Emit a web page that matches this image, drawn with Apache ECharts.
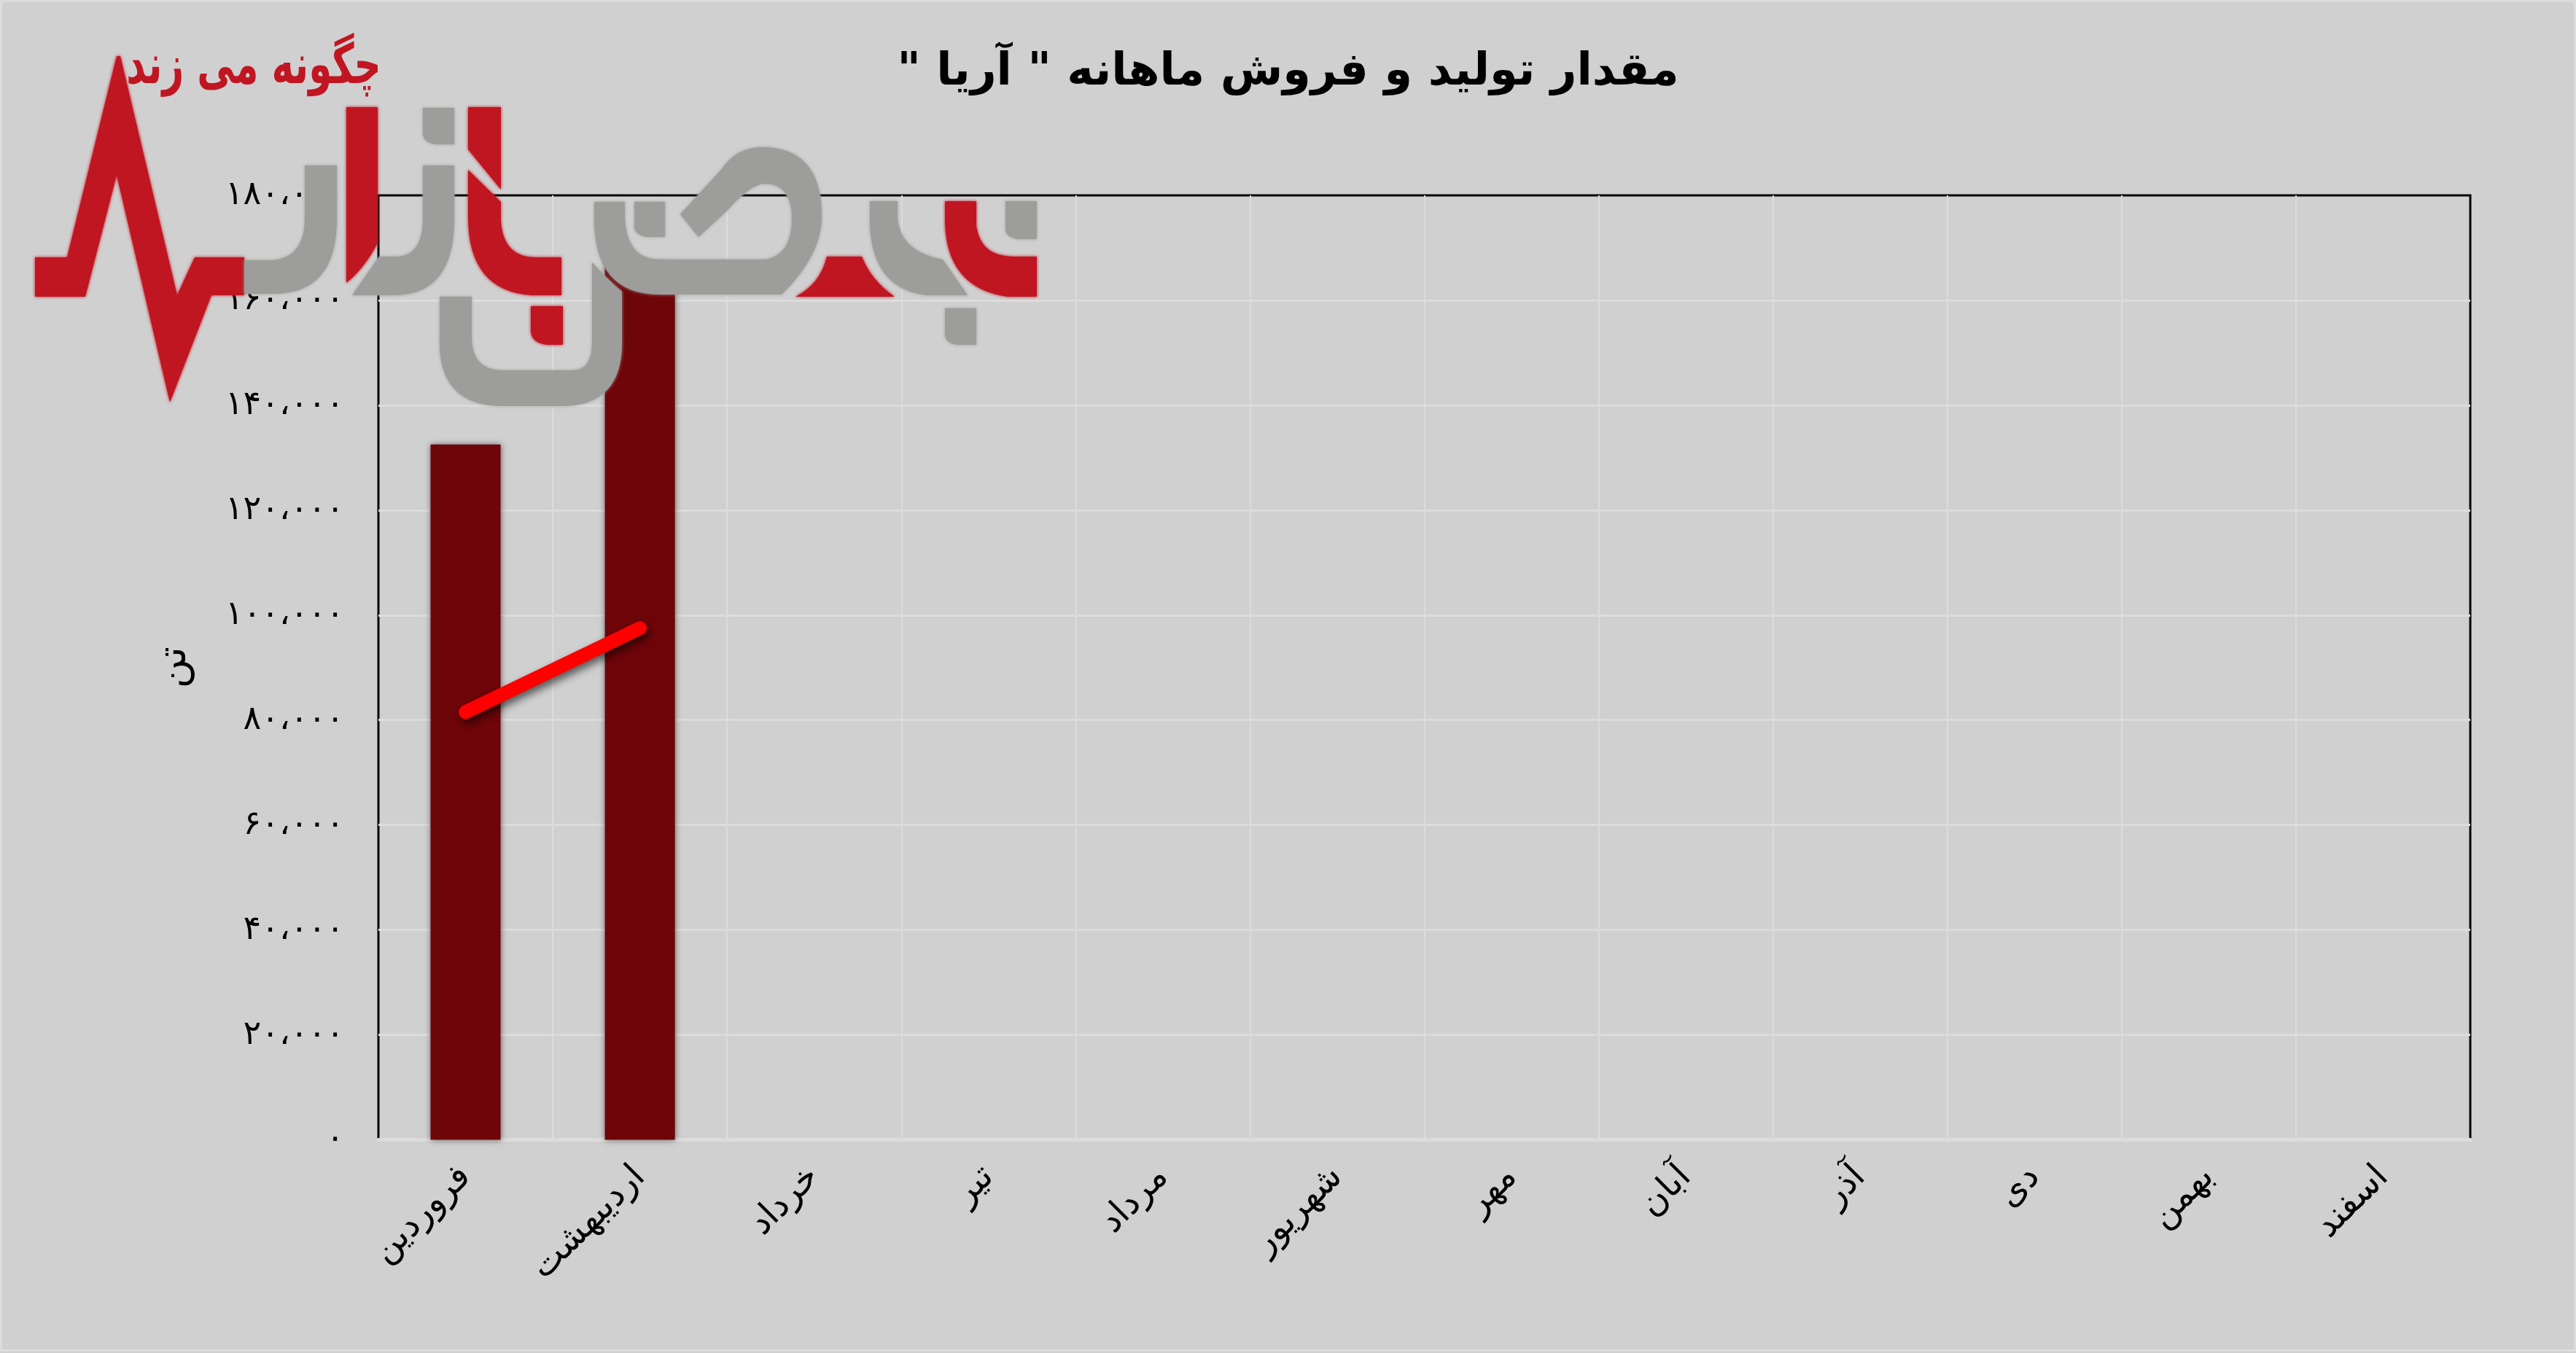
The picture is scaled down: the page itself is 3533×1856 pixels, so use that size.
<!DOCTYPE html>
<html lang="fa" dir="rtl">
<head>
<meta charset="utf-8">
<title>مقدار تولید و فروش ماهانه آریا</title>
<script src="https://cdn.jsdelivr.net/npm/echarts@6/dist/echarts.min.js"></script>
<style>
  html, body { margin: 0; padding: 0; background: #d0d0d0; overflow: hidden; }
  #chart { width: 3533px; height: 1856px; }
</style>
</head>
<body>
<div id="chart"></div>
<script>
// ماه ها
var months = ["فروردین", "اردیبهشت", "خرداد", "تیر", "مرداد", "شهریور", "مهر", "آبان", "آذر", "دی", "بهمن", "اسفند"];
// مقادیر (تن)
var production = [132500, 167000];
var sales = [81500, 97500];
var yMax = 180000;
var yStep = 20000;

var titleText = 'مقدار تولید و فروش ماهانه " آریا "';
var yName = "تن";
var logoCaption = "چگونه می زند";

var font = '"DejaVu Sans"';
var logoRed = "#c01622";
var logoGray = "#9d9d9b";

function faNumber(v) {
  var s = String(v).replace(/\B(?=(\d{3})+(?!\d))/g, "،");
  return s.replace(/\d/g, function (d) { return "۰۱۲۳۴۵۶۷۸۹"[d]; });
}

// لوگوی نبض بازار روی نمودار
var logoRedPaths = [
  "M48,353 L92,353 L160,77 L165,77 L243,405 L267,353 L335,353 L335,405 L290,405 L233,552 L160,240 L117,407 L48,407 Z",
  "M475,147 L518,147 L518,333 Q500,368 475,388 Z",
  "M642,147 L687,147 L687,260 L642,205 Z",
  "M642,233 L687,277 L687,303 Q690,353 735,353 L770,353 L770,405 L730,405 Q642,400 642,297 Z",
  "M728,420 L772,420 L772,473 L750,473 Q728,470 728,453 Z",
  "M1134,352 L1182,352 Q1195,385 1227,407 L1091,407 Q1125,390 1134,352 Z",
  "M1296,276 L1339,276 L1339,310 Q1345,352 1390,352 L1422,352 L1422,407 L1382,407 Q1296,395 1296,300 Z"
];
var logoGrayPaths = [
  "M335,357 L375,357 Q418,352 418,300 L418,227 L462,227 L462,300 Q462,403 375,403 L335,403 Z",
  "M483,405 L520,352 L545,352 Q580,350 580,300 L580,227 L623,227 L623,300 Q623,405 540,405 Z",
  "M580,148 L623,148 L623,198 L597,198 Q580,195 580,183 Z",
  "M603,407 L647,407 L647,463 Q647,508 690,508 L785,508 Q812,508 812,470 L812,360 Q835,385 853,400 L853,470 Q853,557 770,557 L690,557 Q603,557 603,470 Z",
  "M870,277 L912,277 L912,325 L887,325 Q870,322 870,310 Z",
  "M815,277 L857,277 L857,300 Q860,356 905,356 L1050,356 Q1086,350 1086,300 Q1086,252 1048,252 Q1030,252 996,290 L958,325 L933,294 L990,232 Q1010,202 1045,202 Q1127,202 1127,297 Q1127,350 1072,404 L905,404 Q815,404 815,300 Z",
  "M1193,276 L1231,276 L1231,300 Q1235,345 1293,356 L1327,405 L1270,405 Q1193,395 1193,300 Z",
  "M1379,276 L1422,276 L1422,328 L1396,328 Q1379,325 1379,314 Z",
  "M1296,423 L1339,423 L1339,473 L1313,473 Q1296,470 1296,459 Z"
];

// graphic نوع path ندارد، پس هر مسیر را به عنوان shape ثبت می کنیم
function logoPath(name, d, color) {
  echarts.graphic.registerShape(name, echarts.graphic.extendPath(d, {}));
  return { type: name, z: 100, silent: true, style: { fill: color, shadowColor: color, shadowBlur: 4 } };
}

function logoGraphics() {
  var list = [{
    type: "rect",
    z: -10,
    silent: true,
    shape: { x: 1.5, y: 1.5, width: 3530, height: 1851 },
    style: { fill: "transparent", stroke: "#dcdcdc", lineWidth: 3 }
  }];
  logoRedPaths.forEach(function (d, i) { list.push(logoPath("logoRed" + i, d, logoRed)); });
  logoGrayPaths.forEach(function (d, i) { list.push(logoPath("logoGray" + i, d, logoGray)); });
  list.push({
    type: "text",
    z: 101,
    silent: true,
    x: 348,
    y: 94,
    scaleX: 0.68,
    style: {
      text: logoCaption,
      fill: logoRed,
      font: "bold 76px " + font,
      textAlign: "center",
      textVerticalAlign: "middle"
    }
  });
  return list;
}

var chart = echarts.init(document.getElementById("chart"));
chart.setOption({
  backgroundColor: "#d0d0d0",
  animation: false,
  title: {
    text: titleText,
    left: "center",
    top: 64,
    textStyle: { color: "#000", fontSize: 62, fontWeight: "bold", fontFamily: font }
  },
  grid: { left: 519, right: 145, top: 268, height: 1295.5, show: true, borderColor: "#000", borderWidth: 3, backgroundColor: "transparent" },
  xAxis: {
    type: "category",
    data: months,
    axisTick: { show: false },
    axisLine: { lineStyle: { color: "#dcdcdc", width: 5 } },
    axisLabel: { interval: 0, rotate: 45, margin: 44, color: "#000", fontSize: 48, fontFamily: font },
    splitLine: { show: true, interval: 0, showMinLine: false, showMaxLine: false, lineStyle: { color: "#dcdcdc", width: 2 } }
  },
  yAxis: {
    type: "value",
    min: 0,
    max: yMax,
    interval: yStep,
    name: yName,
    nameLocation: "middle",
    nameRotate: 90,
    nameGap: 252,
    nameTextStyle: { color: "#000", fontSize: 55, fontFamily: font },
    axisLine: { show: false },
    axisTick: { show: false },
    axisLabel: { margin: 47, color: "#000", fontSize: 46, fontFamily: font, formatter: faNumber },
    splitLine: { showMinLine: false, showMaxLine: false, lineStyle: { color: "#dcdcdc", width: 3 } }
  },
  series: [
    {
      name: "تولید",
      type: "bar",
      barWidth: 96,
      data: production,
      itemStyle: { color: "#6e0509", shadowColor: "rgba(0,0,0,0.55)", shadowBlur: 8 }
    },
    {
      name: "فروش",
      type: "line",
      data: sales,
      showSymbol: false,
      lineStyle: {
        color: "#ff0000",
        width: 19,
        cap: "round",
        shadowColor: "rgba(0,0,0,0.6)",
        shadowBlur: 12,
        shadowOffsetX: 3,
        shadowOffsetY: 6
      }
    }
  ],
  graphic: { elements: logoGraphics() }
});
</script>
</body>
</html>
